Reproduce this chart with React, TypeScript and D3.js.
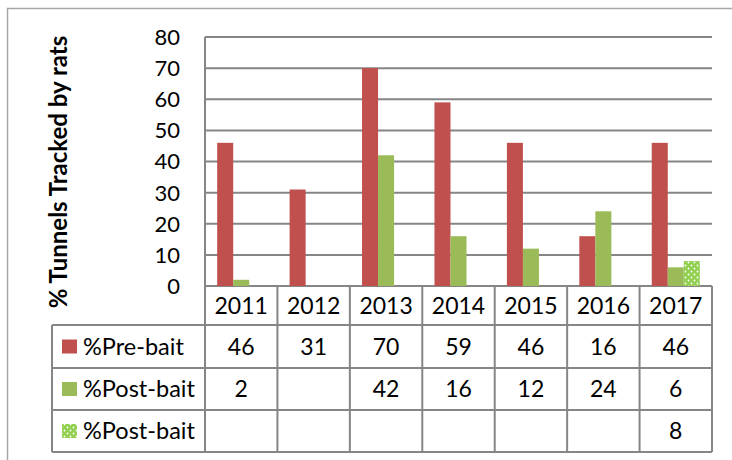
import React from 'react';
import * as d3 from 'd3';

const years = ['2011', '2012', '2013', '2014', '2015', '2016', '2017'];
const preBait = [46, 31, 70, 59, 46, 16, 46];
const postBait = [2, null, 42, 16, 12, 24, 6];
const postBaitDotted = [null, null, null, null, null, null, 8];
const seriesNames = ['%Pre-bait', '%Post-bait', '%Post-bait'];
const yTicks = [0, 10, 20, 30, 40, 50, 60, 70, 80];

const W = 732;
const H = 460;
const plotLeft = 205;
const plotRight = 712;
const plotTop = 37;
const zeroY = 286;
const tableLeft = 52;
const rowLines = [286, 325, 368, 410, 452];
const font = 'Lato, "Open Sans", sans-serif';
const grid = '#868686';

const App = () => {
  const series = [preBait, postBait, postBaitDotted];
  const fills = ['#C0504D', '#9BBB59', 'url(#dots)'];

  const x0 = d3.scaleBand().domain(years).range([plotLeft, plotRight]).padding(0);
  const x1 = d3.scaleBand()
    .domain(['0', '1', '2'])
    .range([0, x0.bandwidth()])
    .paddingInner(0)
    .paddingOuter(0.76);
  const y = d3.scaleLinear().domain([0, 80]).range([zeroY, plotTop]);

  return (
    <svg width={W} height={H} style={{ position: 'absolute', left: 0, top: 0, background: 'white' }}>
      <defs>
        <pattern id="dots" width={6} height={6} patternUnits="userSpaceOnUse">
          <rect width={6} height={6} fill="#92D050" />
          <circle cx={1.5} cy={1.5} r={0.9} fill="white" />
          <circle cx={4.5} cy={4.5} r={0.9} fill="white" />
        </pattern>
      </defs>

      {/* outer frame, cropped at right and bottom */}
      <path d={`M7.5,${H} V8.5 H${W}`} fill="none" stroke="#A6A6A6" strokeWidth={1.5} />

      {/* gridlines */}
      {yTicks.map(t => (
        <line key={t} x1={plotLeft} x2={plotRight} y1={y(t)} y2={y(t)} stroke={grid} strokeWidth={2} />
      ))}

      {/* bars */}
      {series.map((vals, si) =>
        vals.map((v, i) =>
          v == null ? null : (
            <rect
              key={`${si}-${i}`}
              x={(x0(years[i]) as number) + (x1(String(si)) as number)}
              y={y(v)}
              width={x1.bandwidth()}
              height={zeroY - y(v)}
              fill={fills[si]}
            />
          )
        )
      )}

      {/* y tick labels */}
      {yTicks.map(t => (
        <text key={t} x={180} y={y(t)} dy="0.36em" textAnchor="end" fontFamily={font} fontSize={22} fill="#000">
          {t}
        </text>
      ))}

      {/* y axis title */}
      <text
        transform={`translate(67,${172}) rotate(-90)`}
        textAnchor="middle"
        fontFamily={font}
        fontWeight="bold"
        fontSize={24}
        fill="#000"
      >
        % Tunnels Tracked by rats
      </text>

      {/* data table lines */}
      <line x1={plotLeft} x2={plotLeft} y1={plotTop} y2={rowLines[4]} stroke={grid} strokeWidth={2} />
      {rowLines.slice(1).map(ry => (
        <line key={ry} x1={tableLeft} x2={plotRight} y1={ry} y2={ry} stroke={grid} strokeWidth={2} />
      ))}
      <line x1={tableLeft} x2={tableLeft} y1={rowLines[1]} y2={rowLines[4]} stroke={grid} strokeWidth={2} />
      {years.map(yr => (
        <line
          key={yr}
          x1={(x0(yr) as number) + x0.bandwidth()}
          x2={(x0(yr) as number) + x0.bandwidth()}
          y1={zeroY}
          y2={rowLines[4]}
          stroke={grid}
          strokeWidth={2}
        />
      ))}

      {/* year labels */}
      {years.map(yr => (
        <text
          key={yr}
          x={(x0(yr) as number) + x0.bandwidth() / 2}
          y={(rowLines[0] + rowLines[1]) / 2}
          dy="0.36em"
          textAnchor="middle"
          fontFamily={font}
          fontSize={23}
          fill="#000"
        >
          {yr}
        </text>
      ))}

      {/* table rows */}
      {series.map((vals, si) => {
        const cy = (rowLines[si + 1] + rowLines[si + 2]) / 2;
        return (
          <g key={si}>
            <rect x={62} y={cy - 7} width={15} height={14} fill={fills[si]} />
            <text x={83} y={cy} dy="0.36em" fontFamily={font} fontSize={23.5} fill="#000">
              {seriesNames[si]}
            </text>
            {vals.map((v, i) =>
              v == null ? null : (
                <text
                  key={i}
                  x={(x0(years[i]) as number) + x0.bandwidth() / 2}
                  y={cy}
                  dy="0.36em"
                  textAnchor="middle"
                  fontFamily={font}
                  fontSize={23}
                  fill="#000"
                >
                  {v}
                </text>
              )
            )}
          </g>
        );
      })}
    </svg>
  );
};

export default App;
